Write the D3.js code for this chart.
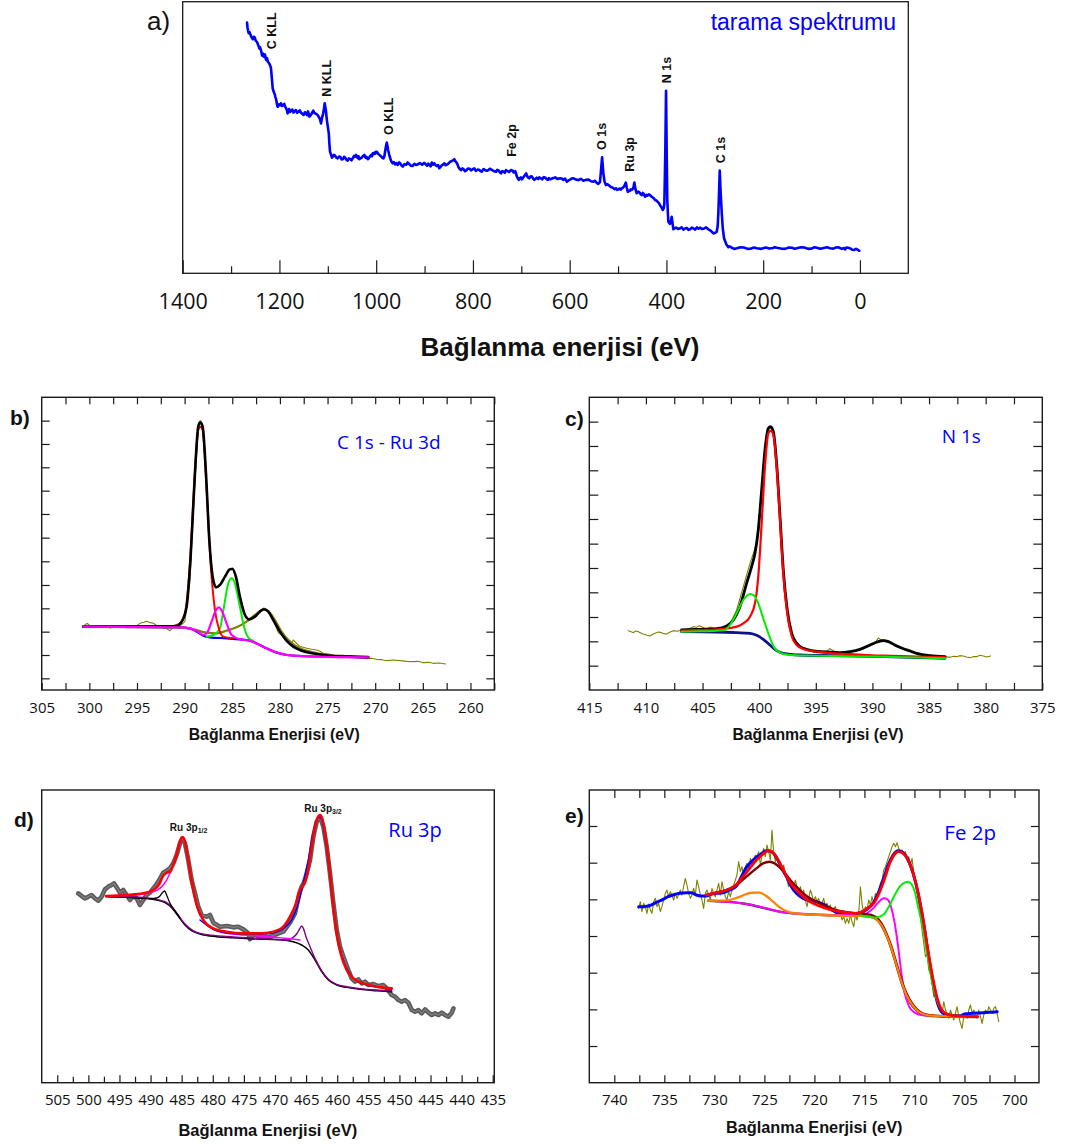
<!DOCTYPE html>
<html>
<head>
<meta charset="utf-8">
<script src="https://cdn.jsdelivr.net/npm/d3@7"></script>
<style>
  html, body { margin: 0; padding: 0; background: #fff; }
  svg { display: block; }
</style>
</head>
<body>
<script>
// ---------- a) survey spectrum: [binding energy eV, intensity a.u.] ----------
const surveyData = [[1267,92.3],[1266,90.5],[1265,89.5],[1263.6,88.4],[1262,88.9],[1260,87.9],[1258,87.0],[1255,86.2],[1253,87.1],[1251,86.8],[1249,85.6],[1247,85.3],[1245,84.6],[1244,84.0],[1242.5,83.4],[1241.6,82.8],[1240,83.2],[1238,82.0],[1237,81.2],[1236,80.2],[1234.5,80.9],[1233,79.8],[1231.5,80.3],[1230,80.6],[1228.5,79.0],[1227,78.5],[1225.5,79.2],[1224,77.9],[1222.5,77.6],[1221,77.2],[1219,76.4],[1217.5,75.5],[1216,72.5],[1214,68.1],[1212.5,67.2],[1211,66.4],[1209.5,65.8],[1208.5,65.0],[1207,64.1],[1206,63.2],[1204.8,62.0],[1203.6,61.3],[1201,62.2],[1199,61.9],[1197,62.6],[1194.7,61.6],[1192,62.0],[1190,62.4],[1188,61.3],[1186.4,60.8],[1184.5,60.0],[1183,58.9],[1181.5,59.6],[1180,60.5],[1178,59.4],[1176,59.8],[1173.5,60.3],[1171,59.2],[1168.5,59.7],[1166,60.1],[1163.5,59.1],[1161,59.5],[1158,60.0],[1155.4,59.1],[1152.5,58.7],[1150,58.3],[1147.5,59.3],[1145,58.9],[1143,58.2],[1141,59.6],[1139.5,58.8],[1138,57.7],[1136,58.1],[1134,58.6],[1132,59.3],[1130,59.9],[1128,59.0],[1126,58.9],[1123.5,58.6],[1121,58.3],[1119,57.7],[1117,57.0],[1115.5,56.3],[1114,55.2],[1112,57.3],[1110,58.5],[1108,60.6],[1106.4,62.6],[1104,60.0],[1102,56.4],[1100,54.0],[1098,51.5],[1096.8,47.8],[1095.5,44.8],[1093,43.5],[1091.5,42.6],[1090,42.9],[1087.5,43.6],[1085,43.3],[1082,42.5],[1079.5,42.3],[1077,43.0],[1074,42.8],[1071.5,41.9],[1069,42.0],[1066.5,42.9],[1064,42.6],[1061.5,41.8],[1059,41.5],[1056.5,42.3],[1054,42.1],[1051,41.6],[1048.5,42.3],[1046,43.2],[1044,42.9],[1041.7,43.6],[1040,43.0],[1038,42.4],[1036.5,43.1],[1035,42.0],[1032.5,42.3],[1030,42.6],[1027,43.2],[1024.6,43.6],[1022,42.6],[1020,42.9],[1017.5,42.0],[1015.5,42.3],[1013,43.0],[1011,43.5],[1009,43.1],[1007,44.2],[1005,43.9],[1003,44.5],[1001.5,44.1],[1000,44.8],[998,44.6],[996,44.0],[993.5,43.6],[991,43.2],[989,42.9],[987,42.5],[985,42.3],[983,43.2],[981,45.5],[979.5,47.0],[978,48.1],[976.8,47.0],[975.5,45.5],[973,43.6],[970,41.8],[968,41.0],[966,40.5],[963.5,40.9],[961,40.1],[958,40.6],[955.5,39.9],[952.5,40.8],[950,40.4],[947.5,39.7],[945,39.3],[941.5,40.2],[938,40.0],[935,40.8],[931.5,40.2],[928,39.6],[925,39.5],[921,40.3],[917.7,39.9],[914,40.1],[910,40.6],[905,40.0],[900.5,40.7],[898,40.2],[895,39.6],[892.5,40.4],[890,39.9],[887.5,39.4],[885,40.8],[882.5,40.0],[880,40.5],[877.5,39.9],[875,39.5],[872,39.8],[869.5,38.7],[867,39.2],[864,39.8],[861.5,40.1],[859,40.5],[856.5,39.8],[854,40.0],[851.5,40.3],[849,40.7],[846.5,41.2],[844,41.3],[841,41.6],[838.5,42.0],[836.5,41.3],[835,41.0],[833,40.5],[831.5,39.9],[830,39.1],[828,38.6],[826,38.2],[824.6,38.0],[822,38.6],[819,38.3],[816.5,37.6],[814,37.8],[810.5,38.6],[807,38.5],[804,37.9],[800.5,38.3],[797,38.6],[794,37.7],[790,38.2],[786.8,38.0],[782,37.4],[778,38.4],[774,37.9],[769.5,37.8],[765,38.5],[761,38.1],[756.5,37.6],[752,37.4],[749.5,38.1],[747,37.9],[744.5,37.2],[742,36.8],[739.5,37.6],[737,37.5],[734,37.0],[731.6,38.0],[728.5,37.6],[725,37.3],[721.5,38.0],[717.8,37.8],[716,37.1],[714,37.2],[712.5,37.6],[711,36.8],[709.5,35.8],[708,35.2],[706.5,34.7],[705.3,34.4],[703,35.0],[701,35.3],[699,34.6],[697,35.0],[695,35.6],[693,36.0],[691.5,36.4],[690,36.8],[688.5,36.1],[687,35.5],[685,35.1],[683.4,35.0],[680.5,35.7],[678,35.6],[675.5,34.9],[673,34.4],[670.5,34.8],[668,35.2],[665,34.7],[662.7,35.3],[660,35.0],[657,34.6],[653.5,35.4],[650,35.2],[647.5,34.6],[645,34.4],[643,35.0],[640.6,34.6],[635,35.0],[630,35.3],[625,34.7],[620,35.0],[616.5,34.9],[613,34.4],[609.5,34.9],[606,33.7],[602.5,34.2],[599,34.5],[596,34.9],[592.5,35.0],[587,34.5],[582,34.3],[577,34.8],[571.8,34.1],[566.5,34.4],[561,34.5],[556,33.9],[551,33.7],[548,34.1],[545,33.5],[543,33.1],[540.8,32.9],[537.5,33.6],[535.8,36.8],[533,42.7],[530.4,36.8],[528,33.8],[525,32.5],[522,32.8],[519,32.4],[516,31.9],[513,31.7],[510,31.4],[507,31.0],[504,31.3],[501.5,30.7],[499,30.9],[497,31.2],[494.5,30.8],[492.4,31.3],[490,31.5],[488,31.9],[486,32.6],[484,33.4],[482,31.5],[480,30.0],[478,30.4],[476,30.3],[474,30.9],[471.7,30.7],[469,31.2],[467.5,32.3],[466.3,33.4],[465,32.0],[464,31.0],[462.5,30.0],[461.4,29.5],[458.5,30.1],[456,29.8],[453.5,29.2],[451,28.8],[449,29.6],[447,29.3],[445.5,28.6],[444,28.2],[441.5,28.9],[439,28.6],[436.5,29.1],[434,28.8],[431.5,28.3],[429,28.0],[426,27.6],[423.6,27.0],[421,26.8],[418,26.3],[415.5,25.8],[413.3,25.1],[411.5,24.6],[410,24.2],[408.8,23.7],[407.7,23.3],[405.5,24.0],[404.3,25.8],[402.3,45],[400.8,67.2],[399.5,45],[398.2,27.0],[397,22],[396,19.0],[393,18.2],[390.5,19.6],[389,20.8],[387.5,18.5],[385.7,16.2],[383,16.6],[380,16.8],[376,16.3],[372,16.6],[368.5,16.9],[365,16.1],[361.5,16.5],[358,16.7],[354.5,16.0],[351,16.2],[347.5,16.8],[344,16.5],[340.5,16.1],[337,16.9],[333.5,16.4],[330.5,16.8],[326,16.3],[322,16.5],[318,16.9],[313.3,16.2],[310.5,15.9],[308,15.6],[303,14.7],[299,14.9],[296,15.3],[294,17.5],[292.7,22.1],[291.2,30],[289.8,37.8],[288,30],[285.6,22.1],[283.5,16.5],[280.9,12.9],[276,10.6],[272,9.6],[268.5,9.9],[265,9.4],[260,9.0],[254.6,9.2],[247,9.6],[240,9.5],[232,9.0],[225,9.1],[219,9.5],[213,9.2],[204,9.0],[195,9.5],[187,9.1],[180,9.3],[176,9.6],[172,9.4],[163,9.1],[155,9.0],[147,9.5],[140,9.4],[135,9.0],[130.6,9.2],[122,9.6],[115,9.5],[107,9.0],[100,9.1],[94,9.6],[89,9.4],[82,9.0],[75,9.3],[68,9.6],[61.8,9.2],[55,9.1],[50,9.5],[44.6,9.6],[40,9.2],[37,9.0],[33,9.3],[30.7,8.8],[28,9.5],[25,9.4],[20.4,9.2],[16,8.7],[12,8.6],[8,9.0],[5,8.7],[1.2,8.3]];
const surveyPeaks = [
  {name: "C KLL", e: 1207, i: 82.5}, {name: "N KLL", e: 1093, i: 65.0},
  {name: "O KLL", e: 965, i: 50.9},  {name: "Fe 2p", e: 712, i: 42.9},
  {name: "O 1s", e: 525, i: 45.4},   {name: "Ru 3p", e: 468, i: 37.4},
  {name: "N 1s", e: 390, i: 70.0},   {name: "C 1s", e: 279, i: 40.5}
];
const surveyTickLabels = [1400, 1200, 1000, 800, 600, 400, 200, 0];
const surveyMinorTicks = [1300, 1100, 900, 700, 500, 300, 100];

// ---------- b) C 1s - Ru 3d ----------
const c1sData = [[300.63,192],[300.42,196],[300.21,200],[299.98,194],[299.76,190],[299.3,189],[298.88,188],[298.4,190],[297.83,186],[297.3,189],[296.78,190],[296.1,187],[295.38,188],[295.0,193],[294.69,200],[294.3,203],[293.99,206],[293.6,202],[293.29,200],[292.9,193],[292.59,188],[292.2,186],[291.89,184],[291.54,178],[291.19,188],[290.84,190],[290.49,192],[289.97,205],[289.44,330],[288.92,620],[288.57,790],[288.36,808],[288.11,790],[287.76,650],[287.41,450],[287.06,340],[286.71,306],[286.29,316],[285.77,340],[285.24,362],[284.97,366],[284.62,338],[284.20,282],[283.67,225],[283.22,212],[282.62,222],[282.10,235],[281.68,246],[281.40,240],[281.05,232],[280.70,212],[280.17,172],[279.83,165],[279.30,145],[278.95,148],[278.78,140],[278.60,150],[278.43,145],[277.90,130],[277.55,128],[277.20,125],[276.68,122],[276.15,120],[275.80,116],[275.45,110],[274.9,108],[274.41,105],[273.5,104],[272.66,102],[271.8,97],[270.91,94],[270.4,95],[269.86,92],[269.3,91],[268.81,88],[268.1,90],[267.41,88],[266.7,86],[266.01,85],[265.5,86],[264.97,82],[264.4,83],[263.92,80],[263.3,81],[262.62,78]];
const c1sEnvelope = [[300.63,190],[295.38,190],[291.89,191],[290.84,192],[290.31,205],[289.79,250],[289.37,400],[288.92,650],[288.57,790],[288.36,803],[288.11,790],[287.76,650],[287.41,450],[287.06,340],[286.71,308],[286.29,315],[285.77,340],[285.24,362],[284.97,363],[284.62,340],[284.20,280],[283.67,225],[283.22,212],[282.62,220],[282.10,235],[281.68,242],[281.22,235],[280.70,210],[280.00,175],[279.30,148],[278.60,130],[277.90,120],[276.15,108],[274.41,102],[272.66,100],[270.73,98]];
const c1sPeak288 = [[300.63,190],[291.19,192],[290.49,200],[289.97,230],[289.44,380],[289.02,600],[288.57,780],[288.36,790],[288.11,780],[287.69,600],[287.27,380],[286.82,240],[286.36,180],[285.94,160],[284.90,155]];
const c1sPeak286 = [[300.63,190],[290.49,188],[289.44,185],[288.74,178],[288.04,165],[287.69,170],[287.17,205],[286.71,240],[286.40,248],[286.05,235],[285.59,200],[285.07,165],[284.20,152],[283.15,148],[282.10,135],[281.05,120],[280.00,110],[278.60,103],[276.15,100],[270.73,98]];
const c1sPeak285 = [[287.69,160],[286.99,165],[286.29,185],[285.87,250],[285.42,320],[285.07,335],[284.72,320],[284.27,260],[283.67,180],[283.15,152],[282.80,148]];
const c1sPeakRu = [[300.63,190],[290.49,188],[289.09,182],[287.69,172],[286.64,170],[285.59,178],[284.55,188],[283.50,205],[282.62,225],[281.92,240],[281.57,242],[281.05,232],[280.52,210],[279.83,175],[278.95,145],[277.90,125],[276.50,113],[275.10,105],[273.01,102],[270.73,100]];
const c1sBackground = [[300.63,190],[290.49,188],[289.44,185],[288.74,175],[288.04,163],[287.34,158],[285.59,155],[284.20,152],[283.15,148],[282.10,135],[281.40,125],[280.35,112],[279.30,105],[277.90,102],[274.41,100],[270.73,98]];
const c1sTickLabels = [305, 300, 295, 290, 285, 280, 275, 270, 265, 260];
const c1sYTicks = [35, 105, 175, 245, 315, 386, 457, 528, 598, 668, 738, 808];

// ---------- c) N 1s ----------
const n1sData = [[411.56,178],[411.3,175],[411.11,172],[410.9,177],[410.67,175],[410.45,171],[410.23,168],[409.9,164],[409.64,162],[409.4,167],[409.20,170],[408.9,174],[408.61,172],[408.4,169],[408.17,168],[407.9,173],[407.58,178],[407.2,176],[406.85,180],[406.5,182],[406.11,185],[405.8,190],[405.52,188],[405.3,193],[405.08,190],[404.85,186],[404.64,184],[404.3,189],[404.05,186],[403.75,183],[403.46,180],[403.2,186],[403.02,185],[402.58,198],[401.99,240],[401.40,310],[400.81,380],[400.22,440],[399.78,600],[399.49,715],[399.19,782],[398.99,788],[398.75,772],[398.46,675],[398.16,515],[397.87,355],[397.52,238],[397.13,165],[396.69,138],[396.10,122],[395.22,115],[394.5,117],[394.04,116],[393.75,124],[393.45,118],[392.87,110],[391.98,113],[391.10,120],[390.22,132],[389.8,140],[389.48,156],[389.25,151],[389.04,150],[388.60,148],[388.16,138],[387.6,131],[387.27,125],[386.83,122],[386.4,116],[386.10,110],[385.4,104],[384.62,100],[384.1,102],[383.59,100],[383.15,98],[382.85,101],[382.56,100],[382.3,103],[381.98,102],[381.7,99],[381.39,97],[381.1,100],[380.80,100],[380.5,104],[380.21,102],[379.9,99],[379.56,102]];
const n1sEnvelope = [[406.85,180],[405.23,182],[403.76,184],[402.87,192],[402.28,210],[401.70,250],[401.11,320],[400.67,370],[400.37,410],[400.08,480],[399.78,600],[399.49,720],[399.19,785],[398.99,790],[398.75,775],[398.46,680],[398.16,520],[397.87,360],[397.52,240],[397.13,170],[396.69,140],[396.10,125],[395.22,117],[394.04,114],[392.87,112],[391.98,115],[391.10,122],[390.22,135],[389.48,145],[389.04,148],[388.60,145],[387.86,132],[386.98,120],[386.10,110],[384.92,103],[383.59,100]];
const n1sPeak399 = [[406.85,178],[405.23,180],[403.76,182],[402.87,185],[401.99,190],[401.40,200],[400.81,220],[400.37,260],[400.08,340],[399.78,500],[399.49,670],[399.19,770],[398.99,778],[398.75,765],[398.46,670],[398.16,510],[397.87,350],[397.52,230],[397.13,162],[396.69,135],[396.10,123],[394.93,115],[393.45,110],[391.98,108],[390.51,105],[389.04,103],[386.10,100],[383.59,98]];
const n1sPeak401 = [[406.85,175],[405.23,176],[403.76,178],[403.02,180],[402.58,195],[401.99,230],[401.40,270],[400.81,288],[400.46,284],[400.08,260],[399.64,215],[399.19,170],[398.75,132],[398.16,112],[397.28,105],[394.93,103],[391.98,101],[389.04,100],[383.59,95]];
const n1sBackground = [[406.85,175],[403.76,174],[401.99,172],[400.81,170],[400.22,164],[399.64,152],[399.05,135],[398.46,118],[397.87,110],[396.40,105],[393.45,103],[389.04,100],[383.59,95]];
const n1sTickLabels = [415, 410, 405, 400, 395, 390, 385, 380, 375];
const n1sYTicks = [73, 146, 219, 293, 366, 439, 513, 586, 659, 732, 805];

// ---------- d) Ru 3p ----------
const ru3pData = [[501.62,568],[501.09,560],[500.55,553],[500.02,558],[499.48,563],[498.94,553],[498.41,546],[497.87,558],[497.34,580],[496.80,588],[496.26,593],[495.89,598],[495.46,586],[494.92,570],[494.39,578],[493.85,563],[493.32,548],[492.78,560],[492.24,553],[491.71,533],[491.17,548],[490.64,563],[490.10,570],[489.56,583],[489.13,593],[488.60,608],[487.96,630],[487.42,636],[486.88,643],[486.35,658],[485.81,683],[485.28,718],[484.90,733],[484.47,718],[483.94,668],[483.40,608],[482.86,568],[482.33,528],[481.79,503],[480.99,498],[480.45,503],[479.92,480],[478.84,468],[477.77,470],[476.70,466],[475.90,468],[475.09,460],[474.29,448],[474.02,430],[473.48,446],[472.68,440],[471.88,438],[470.80,438],[469.73,446],[468.66,453],[467.59,480],[466.78,508],[466.09,568],[465.71,588],[465.34,600],[464.91,628],[464.37,668],[463.84,738],[463.30,783],[462.76,798],[462.23,768],[461.69,708],[461.16,628],[460.62,538],[460.08,458],[459.55,408],[459.01,378],[458.21,338],[457.67,313],[457.14,303],[456.60,310],[456.06,298],[455.53,303],[454.99,293],[454.19,296],[453.38,290],[452.58,293],[452.04,283],[451.24,263],[450.70,258],[450.17,248],[449.63,243],[449.10,248],[448.56,240],[448.02,218],[447.49,213],[446.95,218],[446.42,208],[445.88,220],[445.34,210],[444.81,203],[444.27,208],[443.74,203],[443.20,210],[442.66,203],[442.13,198],[441.59,210],[441.32,223]];
const ru3pEnvelope = [[497.17,560],[493.85,563],[491.17,568],[489.56,578],[488.60,596],[488.06,618],[487.42,630],[486.88,633],[486.35,653],[485.70,693],[485.17,728],[484.85,736],[484.47,723],[483.94,668],[483.24,588],[482.49,528],[481.52,488],[479.92,463],[477.77,453],[475.09,448],[472.41,448],[470.27,453],[468.66,468],[467.59,498],[466.62,538],[465.98,578],[465.44,593],[464.91,618],[464.26,688],[463.68,758],[463.19,793],[462.76,803],[462.34,788],[461.80,728],[461.16,628],[460.62,528],[460.08,448],[459.44,388],[458.48,338],[457.40,313],[455.80,298],[453.65,288],[451.24,283]];
const ru3pHalf = [[497.17,560],[492.78,563],[490.10,570],[488.49,583],[487.42,608],[486.35,653],[485.70,693],[485.17,726],[484.85,733],[484.47,720],[483.94,666],[483.24,586],[482.49,526],[481.52,486],[479.92,460],[477.77,448],[475.09,443],[472.41,440],[469.73,436],[467.59,432],[465.98,428]];
const ru3pThreeHalf = [[482.06,488],[479.92,460],[477.77,450],[475.09,446],[472.41,446],[470.27,450],[468.66,463],[467.32,488],[466.25,538],[465.34,608],[464.64,668],[464.00,738],[463.30,788],[462.87,796],[462.50,790],[461.96,738],[461.26,638],[460.62,528],[460.08,448],[459.28,383],[458.21,333],[457.14,308],[455.26,293],[453.12,286],[451.24,280]];
const ru3pBackground = [[497.17,558],[493.85,556],[491.17,553],[489.03,548],[487.69,540],[486.88,530],[486.08,513],[485.28,493],[484.47,473],[483.40,456],[482.06,446],[479.38,438],[476.70,435],[474.02,432],[471.34,430],[468.66,428],[467.05,423],[465.71,413],[464.64,398],[463.57,368],[462.50,333],[461.42,308],[460.08,293],[458.48,286],[456.33,280],[453.65,276],[451.24,273]];
const ru3pSatHigh = [[490.10,552],[489.03,554],[488.49,560],[487.96,573],[487.74,575],[487.42,563],[486.88,538],[486.35,523],[485.81,508],[485.28,493]];
const ru3pSatLow = [[497.17,561],[491.17,556],[487.69,543],[486.08,516],[484.47,476],[482.06,448],[476.70,437],[471.34,432],[468.12,428],[467.32,433],[466.52,446],[465.98,463],[465.71,470],[465.44,463],[465.02,438],[464.37,408],[463.57,373],[462.50,336],[461.42,310],[460.08,295],[458.48,288],[456.33,282],[453.65,278],[451.24,276]];
const ru3pTickLabels = [505, 500, 495, 490, 485, 480, 475, 470, 465, 460, 455, 450, 445, 440, 435];
const ru3pPeakNames = [{main: "Ru 3p", sub: "1/2", e: 486.9, i: 756}, {main: "Ru 3p", sub: "3/2", e: 465.3, i: 813}];

// ---------- e) Fe 2p ----------
const fe2pData = [[737.57,523],[737.40,543],[737.24,513],[737.07,538],[736.90,528],[736.74,508],[736.57,536],[736.40,518],[736.24,508],[736.07,543],[735.90,553],[735.74,528],[735.57,538],[735.40,513],[735.24,528],[735.07,548],[734.90,568],[734.74,578],[734.57,558],[734.40,573],[734.24,563],[734.07,548],[733.90,568],[733.74,553],[733.57,563],[733.40,578],[733.24,563],[733.07,588],[732.90,613],[732.74,593],[732.57,568],[732.40,553],[732.24,563],[732.07,583],[731.90,563],[731.74,608],[731.57,588],[731.40,563],[731.24,548],[731.07,523],[730.90,568],[730.74,578],[730.57,563],[730.40,548],[730.24,583],[730.07,568],[729.90,558],[729.74,578],[729.57,598],[729.40,563],[729.24,603],[729.07,578],[728.90,558],[728.74,548],[728.57,573],[728.40,558],[728.24,578],[728.07,593],[727.90,608],[727.74,623],[727.57,663],[727.40,633],[727.24,648],[727.07,618],[726.90,648],[726.74,658],[726.57,638],[726.40,673],[726.24,653],[726.07,668],[725.90,683],[725.74,678],[725.57,693],[725.40,653],[725.24,683],[725.07,703],[724.90,678],[724.74,713],[724.57,693],[724.40,668],[724.24,758],[724.07,688],[723.90,663],[723.74,678],[723.57,658],[723.40,663],[723.24,638],[723.07,653],[722.90,628],[722.74,608],[722.57,588],[722.40,608],[722.24,598],[722.07,583],[721.90,608],[721.74,588],[721.57,573],[721.40,588],[721.24,568],[721.07,578],[720.90,548],[720.74,528],[720.57,553],[720.40,578],[720.24,563],[720.07,543],[719.90,558],[719.74,543],[719.57,553],[719.40,533],[719.24,538],[719.07,553],[718.90,528],[718.74,538],[718.57,523],[718.40,533],[718.24,513],[718.07,523],[717.90,528],[717.74,508],[717.57,498],[717.40,513],[717.24,488],[717.07,498],[716.90,478],[716.74,493],[716.57,478],[716.40,503],[716.24,483],[716.07,468],[715.90,503],[715.74,488],[715.57,508],[715.40,588],[715.24,538],[715.07,508],[714.90,528],[714.74,518],[714.57,548],[714.40,533],[714.24,558],[714.07,538],[713.90,568],[713.74,553],[713.57,578],[713.40,598],[713.24,608],[713.07,638],[712.90,648],[712.74,663],[712.57,678],[712.40,693],[712.24,708],[712.07,718],[711.90,708],[711.74,720],[711.57,703],[711.40,693],[711.24,698],[711.07,688],[710.90,693],[710.74,668],[710.57,678],[710.40,653],[710.24,673],[710.07,633],[709.90,608],[709.74,578],[709.57,538],[709.40,498],[709.24,458],[709.07,418],[708.90,378],[708.74,388],[708.57,338],[708.40,328],[708.24,298],[708.07,258],[707.90,268],[707.74,243],[707.57,248],[707.40,223],[707.24,208],[707.07,243],[706.90,218],[706.74,208],[706.57,193],[706.40,218],[706.24,203],[706.07,188],[705.90,208],[705.74,228],[705.57,198],[705.40,178],[705.24,163],[705.07,198],[704.90,208],[704.74,193],[704.57,218],[704.40,233],[704.24,208],[704.07,218],[703.90,203],[703.74,193],[703.57,218],[703.40,198],[703.24,178],[703.07,203],[702.90,218],[702.74,208],[702.57,228],[702.40,218],[702.24,208],[702.07,223],[701.90,228],[701.74,208],[701.57,183]];
const fe2pSmoothed = [[737.57,528],[737.13,528],[736.63,530],[736.13,536],[735.63,543],[735.13,550],[734.63,558],[734.13,563],[733.47,568],[732.80,570],[732.30,570],[731.80,563],[731.30,560],[730.80,560],[730.30,566],[729.80,568],[729.13,570],[728.47,578],[727.80,590],[727.30,618],[726.80,646],[726.13,668],[725.47,683],[724.80,696],[724.30,693],[723.80,676],[723.30,646],[722.80,618],[722.30,588],[721.80,568],[721.13,553],[720.47,546],[719.80,543],[719.13,536],[718.47,523],[717.80,510],[717.30,506],[716.80,504],[716.13,506],[715.63,508],[715.13,513],[714.63,523],[714.13,538],[713.63,568],[713.13,608],[712.63,653],[712.13,683],[711.63,696],[711.13,690],[710.63,668],[710.13,628],[709.63,568],[709.13,488],[708.63,388],[708.13,298],[707.63,233],[707.13,208],[706.63,203],[705.97,201],[705.47,200],[704.97,206],[704.13,208],[703.13,210],[702.47,211],[701.73,213]];
const fe2pEnvelope = [[730.80,563],[729.80,570],[728.80,578],[727.97,590],[727.13,618],[726.47,643],[725.80,668],[725.13,686],[724.60,696],[724.13,690],[723.63,668],[723.13,640],[722.63,610],[722.13,588],[721.47,568],[720.80,550],[719.97,536],[719.13,526],[718.30,518],[717.47,513],[716.63,510],[715.97,508],[715.47,510],[714.97,518],[714.47,528],[713.97,543],[713.47,573],[712.97,613],[712.47,658],[711.97,686],[711.60,693],[711.13,688],[710.63,668],[710.13,628],[709.63,568],[709.13,488],[708.63,393],[708.13,308],[707.63,243],[707.13,213],[706.47,203],[705.47,200],[704.47,198],[703.70,198]];
const fe2pHalf = [[730.80,563],[729.80,570],[728.80,578],[727.80,593],[726.80,618],[725.80,643],[725.13,658],[724.47,663],[723.97,658],[723.47,646],[722.80,623],[722.13,598],[721.47,578],[720.80,560],[719.97,546],[719.13,533],[718.30,523],[717.47,515],[716.63,511],[715.80,508],[714.97,506],[714.30,503],[713.80,496],[713.30,478],[712.80,448],[712.30,408],[711.80,358],[711.30,308],[710.80,268],[710.13,233],[709.47,213],[708.63,203],[707.47,200],[705.80,198],[703.70,198]];
const fe2pSatellite = [[730.63,546],[729.47,546],[728.47,548],[727.63,556],[726.80,566],[726.13,570],[725.47,570],[724.80,560],[724.13,543],[723.47,526],[722.63,513],[721.80,508],[720.80,505],[719.47,503],[718.13,502],[716.80,500],[715.47,500],[714.47,498],[713.80,490],[713.30,473],[712.80,443],[712.30,403],[711.80,353],[711.30,303],[710.80,263],[710.13,230],[709.47,211],[708.63,202],[707.47,200],[705.80,198],[703.70,198]];
const fe2pPeak713 = [[730.63,546],[728.80,543],[726.80,536],[724.80,523],[723.47,513],[722.13,508],[720.80,506],[719.13,504],[717.47,503],[716.13,503],[715.47,503],[714.80,508],[714.13,523],[713.63,540],[713.30,550],[712.97,553],[712.63,548],[712.30,523],[711.97,478],[711.63,408],[711.30,328],[710.97,268],[710.53,228],[709.97,210],[709.13,202],[707.47,200],[705.80,198],[703.70,198]];
const fe2pPeak711 = [[715.47,502],[714.63,498],[713.97,495],[713.47,498],[712.97,508],[712.47,533],[711.97,563],[711.47,588],[710.97,600],[710.63,603],[710.30,596],[709.97,573],[709.63,528],[709.13,458],[708.63,368],[708.13,288],[707.63,238],[707.13,213],[706.63,203],[705.80,200]];
const fe2pBackground = [[730.63,546],[728.80,543],[726.80,536],[724.80,522],[723.47,513],[722.13,508],[720.80,505],[719.13,503],[717.47,502],[715.47,501],[714.47,498],[713.80,490],[713.30,472],[712.80,442],[712.30,401],[711.80,351],[711.30,301],[710.80,260],[710.13,228],[709.47,210],[708.63,201],[707.47,199],[703.70,197]];
const fe2pTickLabels = [740, 735, 730, 725, 720, 715, 710, 705, 700];
const fe2pYTicks = [110, 220, 330, 440, 550, 660, 770];

// ---------- drawing ----------
const W = 1066, H = 1144;
const TICK_FONT = "'Open Sans', 'DejaVu Sans', sans-serif";
const ARIAL = "'Liberation Sans', Arial, sans-serif";
const svg = d3.select("body").append("svg").attr("width", W).attr("height", H);

function panel(box, xDomain, yDomain) {
  const [x0, y0, x1, y1] = box;
  const g = svg.append("g");
  const x = d3.scaleLinear().domain(xDomain).range([x0, x1]);
  const y = d3.scaleLinear().domain(yDomain).range([y1, y0]);
  return {g, x, y, box};
}

function frame(p, width) {
  const [x0, y0, x1, y1] = p.box;
  p.g.append("rect").attr("x", x0).attr("y", y0).attr("width", x1 - x0).attr("height", y1 - y0)
    .attr("fill", "none").attr("stroke", "#1a1a1a").attr("stroke-width", width || 1.4);
}

function ticks(p, orient, values, len, withLabels, fontSize, pad) {
  const make = {bottom: d3.axisBottom, top: d3.axisTop, left: d3.axisLeft, right: d3.axisRight}[orient];
  const scale = (orient === "bottom" || orient === "top") ? p.x : p.y;
  const ax = make(scale).tickValues(values).tickSizeInner(-len).tickSizeOuter(0)
    .tickPadding(pad || 3).tickFormat(withLabels ? d3.format("d") : () => "");
  const [x0, y0, x1, y1] = p.box;
  const pos = {bottom: `translate(0,${y1})`, top: `translate(0,${y0})`, left: `translate(${x0},0)`, right: `translate(${x1},0)`}[orient];
  const s = p.g.append("g").attr("transform", pos).call(ax);
  s.select(".domain").remove();
  s.selectAll(".tick line").attr("stroke", "#1a1a1a").attr("stroke-width", 1.2);
  s.selectAll(".tick text").attr("fill", "#111").attr("font-family", TICK_FONT).attr("font-size", fontSize || 15);
  return s;
}

function trace(p, data, color, width, smooth, opacity) {
  const line = d3.line().x(d => p.x(d[0])).y(d => p.y(d[1]))
    .curve(smooth ? d3.curveMonotoneX : d3.curveLinear);
  p.g.append("path").datum(data).attr("d", line).attr("fill", "none")
    .attr("stroke", color).attr("stroke-width", width).attr("stroke-opacity", opacity || 1)
    .attr("stroke-linejoin", "round").attr("stroke-linecap", "round");
}

function text(x, y, str, opts) {
  return svg.append("text").attr("x", x).attr("y", y).text(str)
    .attr("font-family", opts.family || ARIAL).attr("font-size", opts.size)
    .attr("font-weight", opts.weight || "normal").attr("fill", opts.fill || "#111")
    .attr("text-anchor", opts.anchor || "start");
}

// a) survey
const pa = panel([182.7, 1.7, 908.3, 273.3], [1400, -100], [0, 100]);
frame(pa, 1.3);
trace(pa, surveyData, "#0000ff", 2.6, false);
ticks(pa, "bottom", surveyTickLabels, 13, true, 21.5, 20.7);
ticks(pa, "bottom", surveyMinorTicks, 7, false);
surveyPeaks.forEach(d => {
  pa.g.append("text").attr("transform", `translate(${pa.x(d.e)},${pa.y(d.i)}) rotate(-90)`)
    .text(d.name).attr("font-family", ARIAL).attr("font-weight", "bold")
    .attr("font-size", 12.5).attr("fill", "#111");
});
text(896, 29.5, "tarama spektrumu", {size: 23, fill: "#0000ff", anchor: "end"});
text(147, 30, "a)", {size: 26});
text(560, 356, "Bağlanma enerjisi (eV)", {size: 26, weight: "bold", anchor: "middle"});

// b) C 1s - Ru 3d
const pb = panel([41.7, 397.3, 494.3, 690], [305, 257.5], [0, 878]);
trace(pb, c1sData, "#808000", 1.1, false);
trace(pb, c1sBackground, "#0000ff", 2.2, true);
trace(pb, c1sPeakRu, "#808000", 2.2, true);
trace(pb, c1sPeak285, "#00ee00", 2, true);
trace(pb, c1sPeak288, "#ff0000", 2, true);
trace(pb, c1sEnvelope, "#000000", 2.6, true);
trace(pb, c1sPeak286, "#ff00ff", 2.2, true);
frame(pb);
ticks(pb, "bottom", c1sTickLabels, 7, true, 15, 12);
ticks(pb, "bottom", d3.range(302.5, 257, -5), 7, false);
ticks(pb, "top", d3.range(302.5, 257, -2.5), 7, false);
ticks(pb, "left", c1sYTicks, 8, false);
ticks(pb, "right", c1sYTicks, 8, false);
text(10, 425, "b)", {size: 21, weight: "bold"});
text(337, 449.3, "C 1s - Ru 3d", {size: 19, fill: "#0000ff", family: TICK_FONT});
text(274.3, 740.3, "Bağlanma Enerjisi (eV)", {size: 15.8, weight: "bold", anchor: "middle"});

// c) N 1s
const pc = panel([589.3, 397.3, 1042.3, 690], [415, 375], [0, 878]);
trace(pc, n1sData, "#808000", 1.1, false);
trace(pc, n1sBackground, "#10108a", 2.8, true);
trace(pc, n1sEnvelope, "#000000", 2.8, true);
trace(pc, n1sPeak399, "#ff0000", 2.2, true);
trace(pc, n1sPeak401, "#00ee00", 2, true);
frame(pc);
ticks(pc, "bottom", n1sTickLabels, 7, true, 15, 12);
ticks(pc, "bottom", d3.range(412.5, 376, -5), 7, false);
ticks(pc, "top", d3.range(412.5, 376, -2.5), 7, false);
ticks(pc, "left", n1sYTicks, 9, false);
ticks(pc, "right", n1sYTicks, 9, false);
text(565, 426, "c)", {size: 21, weight: "bold"});
text(941.7, 442.7, "N 1s", {size: 19, fill: "#0000ff", family: TICK_FONT});
text(818, 740.3, "Bağlanma Enerjisi (eV)", {size: 15.8, weight: "bold", anchor: "middle"});

// d) Ru 3p
const pd = panel([41.7, 790, 494.3, 1082.7], [507.5, 434.75], [0, 878]);
trace(pd, ru3pData, "#4a4a4a", 4.6, false, 0.9);
trace(pd, ru3pData, "#8a8a8a", 1.2, false, 0.8);
trace(pd, ru3pBackground, "#000000", 1.5, true);
trace(pd, ru3pSatLow, "#800080", 1.4, true);
trace(pd, ru3pSatHigh, "#000000", 1.3, true);
trace(pd, ru3pHalf, "#ff00ff", 1.5, true);
trace(pd, ru3pThreeHalf, "#0000ff", 1.5, true);
trace(pd, ru3pEnvelope, "#ff0000", 2.6, true);
frame(pd);
ticks(pd, "bottom", ru3pTickLabels, 7.5, true, 15, 11.7);
ticks(pd, "bottom", d3.range(502.5, 436, -5), 6, false);
ru3pPeakNames.forEach(d => {
  const t = pd.g.append("text").attr("x", pd.x(d.e)).attr("y", pd.y(d.i))
    .attr("font-family", ARIAL).attr("font-weight", "bold").attr("font-size", 10).attr("fill", "#111");
  t.append("tspan").text(d.main);
  t.append("tspan").text(d.sub).attr("font-size", 7).attr("dy", 2.5);
});
text(14, 826.7, "d)", {size: 21, weight: "bold"});
text(388.3, 837.3, "Ru 3p", {size: 20, fill: "#0000ff", family: TICK_FONT});
text(267.8, 1136, "Bağlanma Enerjisi (eV)", {size: 16.5, weight: "bold", anchor: "middle"});

// e) Fe 2p
const pe = panel([589.3, 790, 1039, 1082.7], [742.5, 697.55], [0, 878]);
trace(pe, fe2pData, "#808000", 1.1, false);
trace(pe, fe2pSmoothed, "#0000ff", 3, true);
trace(pe, fe2pBackground, "#333333", 2.4, true);
trace(pe, fe2pPeak713, "#ff00ff", 2, true);
trace(pe, fe2pHalf, "#800000", 2.4, true);
trace(pe, fe2pSatellite, "#ff8000", 2.2, true);
trace(pe, fe2pPeak711, "#00ee00", 2, true);
trace(pe, fe2pEnvelope, "#ff0000", 2.8, true);
frame(pe);
ticks(pe, "bottom", fe2pTickLabels, 7.5, true, 15, 11.7);
ticks(pe, "bottom", d3.range(737.5, 698, -5), 7.5, false);
ticks(pe, "top", d3.range(740, 698, -2.5), 8, false);
ticks(pe, "left", fe2pYTicks, 8, false);
ticks(pe, "right", fe2pYTicks, 8, false);
text(565, 822.7, "e)", {size: 21, weight: "bold"});
text(944.3, 840, "Fe 2p", {size: 20.5, fill: "#0000ff", family: TICK_FONT});
text(814.2, 1132.7, "Bağlanma Enerjisi (eV)", {size: 16.3, weight: "bold", anchor: "middle"});
</script>
</body>
</html>
